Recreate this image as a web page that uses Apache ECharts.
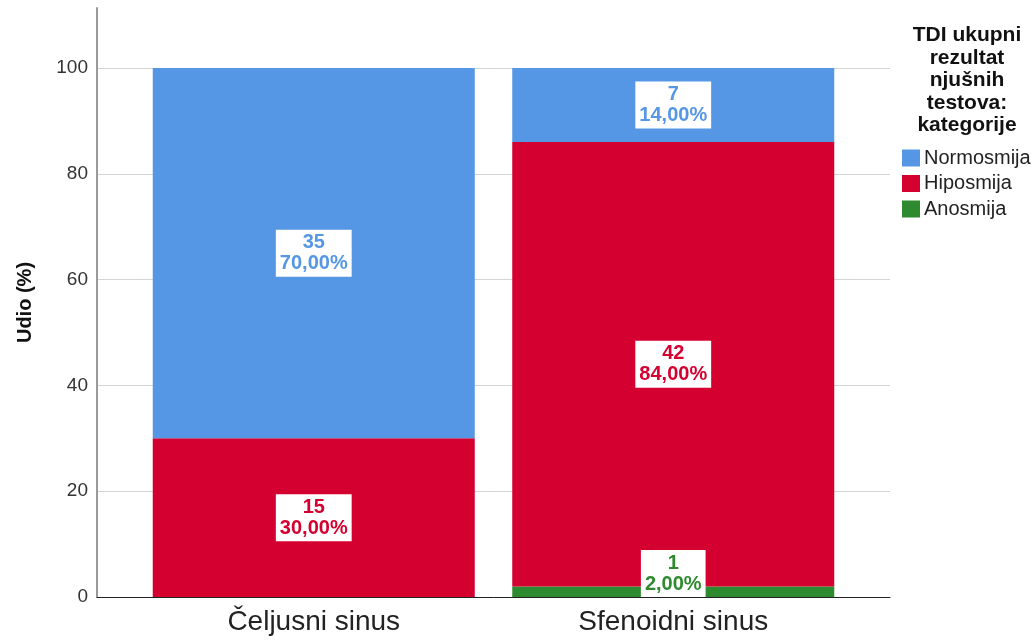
<!DOCTYPE html>
<html>
<head>
<meta charset="utf-8">
<script src="https://cdn.jsdelivr.net/npm/echarts@6/dist/echarts.min.js"></script>
<style>
  html, body { margin: 0; padding: 0; background: #fff; }
  #chart { width: 1036px; height: 640px; }
</style>
</head>
<body>
<div id="chart"></div>
<script>
var categories = ['Čeljusni sinus', 'Sfenoidni sinus'];
var seriesNames = ['Normosmija', 'Hiposmija', 'Anosmija'];
var normCount = [35, 7];
var hipoCount = [15, 42];
var anoCount = [0, 1];
var normPct = [70, 14];
var hipoPct = [30, 84];
var anoPct = [0, 2];
var yTicks = [0, 20, 40, 60, 80, 100];

var colors = { Normosmija: '#5596e5', Hiposmija: '#d4002f', Anosmija: '#2e8a2e' };
var FONT = '"Liberation Sans", Arial, sans-serif';

function pctText(v) {
    return v.toFixed(2).replace('.', ',') + '%';
}

function makeData(pcts, counts, pos) {
    return pcts.map(function (p, i) {
        var item = { value: p, count: counts[i] };
        if (!counts[i]) {
            item.value = null;
            item.label = { show: false };
        } else if (pos && pos[i]) {
            item.label = { position: pos[i], distance: 0 };
        }
        return item;
    });
}

function barSeries(name, pcts, counts, pos) {
    return {
        name: name,
        type: 'bar',
        stack: 'total',
        xAxisIndex: 2,
        yAxisIndex: 2,
        barWidth: 322,
        itemStyle: { color: colors[name] },
        label: {
            show: true,
            position: 'inside',
            formatter: function (p) {
                return p.data.count + '\n' + pctText(p.value);
            },
            color: colors[name],
            backgroundColor: '#fff',
            padding: [3, 4, 2, 4],
            fontFamily: FONT,
            fontSize: 20,
            fontWeight: 'bold',
            lineHeight: 21,
            align: 'center'
        },
        emphasis: { disabled: true },
        data: makeData(pcts, counts, pos)
    };
}

var chart = echarts.init(document.getElementById('chart'));
var option = {
    animation: false,
    textStyle: { fontFamily: FONT },
    grid: [
        { left: 97, right: 146, top: 8, bottom: 43 },
        { left: 97, right: 146, top: 68, bottom: 43 },
        { left: 134, right: 183, top: 68, bottom: 43 }
    ],
    legend: {
        data: seriesNames,
        orient: 'vertical',
        left: 897,
        top: 143,
        icon: 'rect',
        itemWidth: 18,
        itemHeight: 17,
        itemGap: 5.5,
        itemStyle: { borderWidth: 0 },
        textStyle: { fontFamily: FONT, fontSize: 20, color: '#222', padding: [0, 0, 0, -1] },
        selectedMode: false
    },
    title: {
        text: 'TDI ukupni\nrezultat\nnjušnih\ntestova:\nkategorije',
        left: 962,
        top: 19,
        textAlign: 'center',
        textStyle: { fontFamily: FONT, fontSize: 21, fontWeight: 'bold', color: '#111', lineHeight: 22.5 }
    },
    xAxis: [
        {
            gridIndex: 0, type: 'category', data: categories,
            axisLine: { show: true, lineStyle: { color: '#222', width: 1 } },
            axisTick: { show: false }, axisLabel: { show: false }, splitLine: { show: false }
        },
        {
            gridIndex: 1, type: 'category', data: categories, show: false
        },
        {
            gridIndex: 2, type: 'category', data: categories,
            axisLine: { show: false }, axisTick: { show: false },
            axisLabel: { fontFamily: FONT, fontSize: 28, color: '#222', margin: 11 }
        }
    ],
    yAxis: [
        {
            gridIndex: 0, type: 'value', min: 0, max: 111.4,
            name: 'Udio (%)',
            nameLocation: 'middle',
            nameGap: 62,
            nameTextStyle: { fontFamily: FONT, fontSize: 20, fontWeight: 'bold', color: '#111' },
            axisLine: { show: true, lineStyle: { color: '#9a9a9a', width: 2 } },
            axisTick: { show: false }, axisLabel: { show: false }, splitLine: { show: false }
        },
        {
            gridIndex: 1, type: 'value', min: yTicks[0], max: yTicks[yTicks.length - 1], interval: 20,
            axisLine: { show: false }, axisTick: { show: false },
            axisLabel: { fontFamily: FONT, fontSize: 19, color: '#333', margin: 9 },
            splitLine: { show: true, lineStyle: { color: '#d4d4d4', width: 1 } }
        },
        {
            gridIndex: 2, type: 'value', min: 0, max: 100, show: false
        }
    ],
    series: [
        barSeries('Anosmija', anoPct, anoCount, [null, 'insideBottom']),
        barSeries('Hiposmija', hipoPct, hipoCount),
        barSeries('Normosmija', normPct, normCount)
    ]
};
chart.setOption(option);
window.onresize = chart.resize;
</script>
</body>
</html>
